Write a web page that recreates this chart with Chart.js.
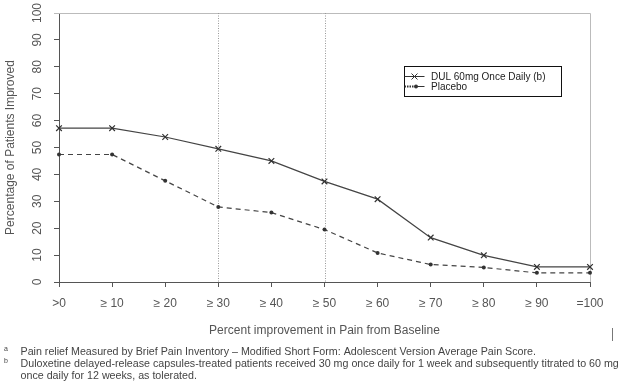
<!DOCTYPE html>
<html>
<head>
<meta charset="utf-8">
<script src="https://cdn.jsdelivr.net/npm/chart.js@4.4.0/dist/chart.umd.min.js"></script>
<style>
  html, body { margin: 0; padding: 0; background: #fff; }
  #wrap { width: 623px; height: 386px; }
</style>
</head>
<body>
<div id="wrap"><canvas id="chart" width="623" height="386"></canvas></div>
<script>
const categories = ['>0', '\u2265 10', '\u2265 20', '\u2265 30', '\u2265 40', '\u2265 50', '\u2265 60', '\u2265 70', '\u2265 80', '\u2265 90', '=100'];
const dulValues = [57.2, 57.2, 53.9, 49.5, 45.0, 37.4, 30.8, 16.5, 9.9, 5.6, 5.6];
const placeboValues = [47.4, 47.4, 37.6, 27.9, 25.8, 19.5, 10.8, 6.5, 5.4, 3.4, 3.4];
const yTicks = [0, 10, 20, 30, 40, 50, 60, 70, 80, 90, 100];
const markedCategories = ['\u2265 30', '\u2265 50'];
const seriesLabels = ['DUL 60mg Once Daily (b)', 'Placebo'];
const xTitle = 'Percent improvement in Pain from Baseline';
const yTitle = 'Percentage of Patients Improved';
const footnotes = [
  ['a', 'Pain relief Measured by Brief Pain Inventory \u2013 Modified Short Form: Adolescent Version Average Pain Score.'],
  ['b', 'Duloxetine delayed-release capsules-treated patients received 30 mg once daily for 1 week and subsequently titrated to 60 mg'],
  ['', 'once daily for 12 weeks, as tolerated.']
];

const FONT = '"Liberation Sans", Arial, sans-serif';
const INK = '#444';

// box, rotated y labels, dotted reference lines, legend and notes
const decorPlugin = {
  id: 'decorPlugin',
  beforeDatasetsDraw: (chart) => {
    const { ctx, chartArea: { left, right, top, bottom }, scales: { x } } = chart;
    ctx.save();
    ctx.strokeStyle = '#bbb';
    ctx.lineWidth = 1;
    ctx.beginPath();
    ctx.moveTo(left - 5, top + 0.5);
    ctx.lineTo(right + 0.5, top + 0.5);
    ctx.lineTo(right + 0.5, bottom);
    ctx.stroke();

    ctx.strokeStyle = '#999';
    ctx.setLineDash([1, 1.5]);
    markedCategories.forEach(c => {
      const px = Math.round(x.getPixelForValue(categories.indexOf(c))) + 0.5;
      ctx.beginPath();
      ctx.moveTo(px, top);
      ctx.lineTo(px, bottom);
      ctx.stroke();
    });
    ctx.restore();
  },
  afterDraw: (chart) => {
    const { ctx, chartArea: { left, right, top, bottom }, scales: { y } } = chart;
    ctx.save();
    ctx.fillStyle = '#555';
    ctx.font = '12px ' + FONT;
    ctx.textAlign = 'center';
    ctx.textBaseline = 'middle';
    yTicks.forEach(v => {
      ctx.save();
      ctx.translate(38, y.getPixelForValue(v));
      ctx.rotate(-Math.PI / 2);
      ctx.fillText(String(v), 0, 0);
      ctx.restore();
    });

    ctx.save();
    ctx.translate(11, (top + bottom) / 2);
    ctx.rotate(-Math.PI / 2);
    ctx.fillText(yTitle, 0, 0);
    ctx.restore();

    ctx.fillText(xTitle, (left + right) / 2, 331);

    // legend
    const lx = 404.5, ly = 66.5, lw = 157, lh = 30;
    ctx.fillStyle = '#fff';
    ctx.fillRect(lx, ly, lw, lh);
    ctx.strokeStyle = '#111';
    ctx.lineWidth = 1;
    ctx.strokeRect(lx, ly, lw, lh);

    ctx.strokeStyle = '#333';
    ctx.beginPath();
    ctx.moveTo(lx, 76.5);
    ctx.lineTo(lx + 20, 76.5);
    ctx.stroke();
    ctx.beginPath();
    ctx.moveTo(lx + 7, 73.5); ctx.lineTo(lx + 13, 79.5);
    ctx.moveTo(lx + 13, 73.5); ctx.lineTo(lx + 7, 79.5);
    ctx.stroke();

    ctx.lineWidth = 2;
    ctx.setLineDash([1.5, 1]);
    ctx.beginPath();
    ctx.moveTo(lx, 86.5);
    ctx.lineTo(lx + 10, 86.5);
    ctx.stroke();
    ctx.setLineDash([]);
    ctx.lineWidth = 1;
    ctx.beginPath();
    ctx.moveTo(lx + 10, 86.5);
    ctx.lineTo(lx + 20, 86.5);
    ctx.stroke();
    ctx.fillStyle = '#333';
    ctx.beginPath();
    ctx.arc(lx + 11.5, 86.5, 2, 0, Math.PI * 2);
    ctx.fill();

    ctx.fillStyle = '#222';
    ctx.font = '10px ' + FONT;
    ctx.textAlign = 'left';
    ctx.fillText(seriesLabels[0], 431, 77);
    ctx.fillText(seriesLabels[1], 431, 87);

    // stray mark at right
    ctx.strokeStyle = '#777';
    ctx.beginPath();
    ctx.moveTo(612.5, 328);
    ctx.lineTo(612.5, 341);
    ctx.stroke();

    // footnotes
    ctx.fillStyle = '#444';
    footnotes.forEach((f, i) => {
      const yy = 352 + i * 12.2;
      ctx.font = '7px ' + FONT;
      ctx.fillText(f[0], 4, yy - 3);
      ctx.font = '10.7px ' + FONT;
      ctx.fillText(f[1], 20.5, yy);
    });
    ctx.restore();
  }
};

new Chart(document.getElementById('chart').getContext('2d'), {
  type: 'line',
  data: {
    labels: categories,
    datasets: [
      {
        label: seriesLabels[0],
        data: dulValues,
        borderColor: INK,
        borderWidth: 1.2,
        pointStyle: 'crossRot',
        pointRadius: 4,
        pointBorderColor: '#333',
        pointBorderWidth: 1.2,
        tension: 0
      },
      {
        label: seriesLabels[1],
        data: placeboValues,
        borderColor: INK,
        borderWidth: 1.2,
        borderDash: [5, 4],
        pointStyle: 'circle',
        pointRadius: 2,
        pointBackgroundColor: '#333',
        pointBorderColor: '#333',
        pointBorderWidth: 0,
        tension: 0
      }
    ]
  },
  options: {
    responsive: false,
    animation: false,
    layout: { padding: { top: 13, right: 33, left: 0, bottom: 0 } },
    plugins: {
      legend: { display: false },
      tooltip: { enabled: false }
    },
    scales: {
      x: {
        type: 'category',
        offset: false,
        afterFit: (scale) => { scale.height = 104; },
        grid: { drawOnChartArea: false, drawTicks: true, tickLength: 5, color: '#555' },
        border: { display: true, color: '#555', width: 1 },
        ticks: {
          color: '#555',
          font: { family: FONT, size: 12 },
          padding: 9,
          maxRotation: 0,
          autoSkip: false
        }
      },
      y: {
        min: 0,
        max: 100,
        afterFit: (scale) => { scale.width = 59; },
        afterBuildTicks: (scale) => { scale.ticks = yTicks.map(v => ({ value: v })); },
        grid: { drawOnChartArea: false, drawTicks: true, tickLength: 5, color: '#555' },
        border: { display: true, color: '#555', width: 1 },
        ticks: { display: false }
      }
    }
  },
  plugins: [decorPlugin]
});
</script>
</body>
</html>
